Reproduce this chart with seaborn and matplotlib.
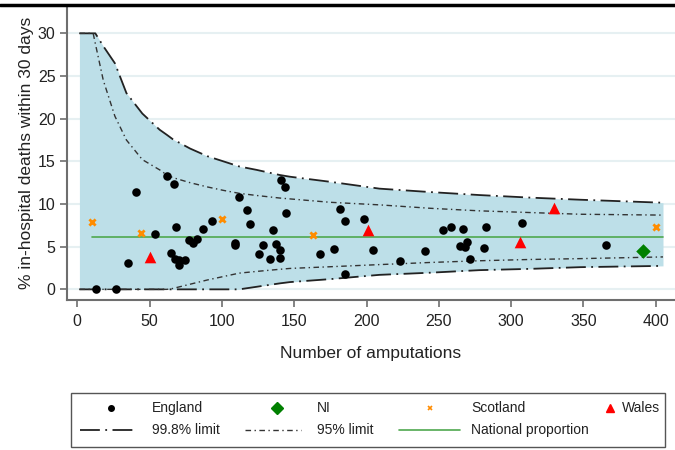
import numpy as np
import pandas as pd
import matplotlib
matplotlib.use("Agg")
import matplotlib.pyplot as plt
from matplotlib.lines import Line2D
from matplotlib.patches import Rectangle
import seaborn as sns

# ── Data ─────────────────────────────────────────────────────────────────────
england_n = [12.9, 26.6, 35.3, 40.4, 53.5, 62.2, 66.7, 68.3, 64.6, 67.6,
             70.3, 74.5, 70.5, 77.5, 80.2, 82.6, 87.1, 93.4, 111.6, 109.3,
             109.3, 117.6, 119.4, 125.4, 128.2, 133.5, 135.6, 137.4, 140.4, 140.4,
             141.1, 143.4, 144.3, 167.6, 177.5, 181.7, 185.3, 185.3, 198.5, 204.3,
             223.2, 240.7, 252.7, 258.4, 266.5, 264.7, 268.1, 269.5, 271.6, 281.5,
             282.4, 307.5, 365.6]
england_pct = [0.0, 0.0, 3.1, 11.4, 6.5, 13.3, 12.4, 7.3, 4.3, 3.5,
               3.4, 3.4, 2.85, 5.8, 5.4, 5.9, 7.1, 8.0, 10.8, 5.4,
               5.2, 9.3, 7.6, 4.2, 5.2, 3.6, 7.0, 5.3, 4.6, 3.7,
               12.85, 12.0, 8.9, 4.1, 4.7, 9.4, 8.0, 1.8, 8.2, 4.6,
               3.3, 4.5, 7.0, 7.3, 7.1, 5.1, 5.0, 5.5, 3.5, 4.8,
               7.3, 7.8, 5.2]

ni_n = [391.3]
ni_pct = [4.5]

scotland_n = [10.4, 44.3, 100.3, 163.3, 400.4]
scotland_pct = [7.9, 6.6, 8.2, 6.4, 7.35]

wales_n = [50.3, 201.3, 306.2, 329.3]
wales_pct = [3.8, 7.0, 5.6, 9.5]

national_n = [10.4, 405]
national_pct = [6.1, 6.1]

limit_n = [1.5, 11, 12.5, 18, 26, 34, 45, 57, 62, 66,
           78, 90, 101, 112, 124, 140, 147, 175, 209, 244,
           278, 313, 348, 405]
upper_998 = [30, 30, 30, 28.5, 26.5, 23.0, 20.6, 18.7, 18.1, 17.6,
             16.5, 15.6, 15.0, 14.4, 14.0, 13.4, 13.2, 12.6, 11.8, 11.4,
             11.05, 10.75, 10.5, 10.15]
upper_95 = [30, 30, 28.8, 24.5, 20.3, 17.5, 15.2, 14.0, 13.4, 13.1,
            12.5, 12.0, 11.6, 11.25, 11.0, 10.7, 10.6, 10.2, 9.9, 9.5,
            9.2, 9.0, 8.8, 8.7]
lower_95 = [0, 0, 0, 0, 0, 0, 0, 0, 0, 0.1,
            0.6, 1.1, 1.5, 1.9, 2.1, 2.35, 2.45, 2.65, 2.9, 3.15,
            3.35, 3.5, 3.6, 3.8]
lower_998 = [0, 0, 0, 0, 0, 0, 0, 0, 0, 0,
             0, 0, 0, 0, 0.3, 0.7, 0.85, 1.2, 1.7, 1.95,
             2.25, 2.4, 2.6, 2.75]

# ── Styling ──────────────────────────────────────────────────────────────────
sns.set_style("white")
plt.rcParams["font.family"] = ["Liberation Sans", "DejaVu Sans"]

BAND = "#bddfe8"
GRID = "#e6f0f2"
AXIS = "#6e6e6e"
TXT = "#222222"
LS_998 = (0, (11, 3, 1, 3))
LS_95 = (0, (4, 2.5, 1, 2.5))
W, H = 675, 450

fig = plt.figure(figsize=(6.75, 4.5), dpi=100)
ax = fig.add_axes([0.0988, 0.3333, 0.9012, 0.6533])

# funnel band
ax.fill_between(limit_n, lower_998, upper_998, color=BAND, linewidth=0, zorder=1)

lims = pd.DataFrame({"n": limit_n, "u998": upper_998, "l998": lower_998,
                     "u95": upper_95, "l95": lower_95})
for col in ["u998", "l998"]:
    sns.lineplot(data=lims, x="n", y=col, ax=ax, color="#222222", linewidth=1.3,
                 linestyle=LS_998, estimator=None, sort=False, zorder=3)
for col in ["u95", "l95"]:
    sns.lineplot(data=lims, x="n", y=col, ax=ax, color="#333333", linewidth=1.0,
                 linestyle=LS_95, estimator=None, sort=False, zorder=3)

sns.lineplot(x=national_n, y=national_pct, ax=ax, color="#4fa84f", linewidth=1.2,
             estimator=None, zorder=3)

# hospitals
sns.scatterplot(x=england_n, y=england_pct, ax=ax, color="black", marker="o",
                s=38, linewidth=0, zorder=5)
sns.scatterplot(x=ni_n, y=ni_pct, ax=ax, color="#008000", marker="D",
                s=55, linewidth=0, zorder=5)
sns.scatterplot(x=scotland_n, y=scotland_pct, ax=ax, color="#ff8c00", marker="x",
                s=20, linewidth=2.0, zorder=5)
sns.scatterplot(x=wales_n, y=wales_pct, ax=ax, color="red", marker="^",
                s=70, linewidth=0, zorder=5)

# axes
ax.set_xlim(-7.3, 413.3)
ax.set_ylim(-1.25, 33.2)
ax.set_xticks(range(0, 401, 50))
ax.set_yticks(range(0, 31, 5))
ax.yaxis.grid(True, color=GRID, linewidth=1.5)
ax.set_axisbelow(True)
for side in ["top", "right"]:
    ax.spines[side].set_visible(False)
for side in ["left", "bottom"]:
    ax.spines[side].set_color(AXIS)
    ax.spines[side].set_linewidth(1.5)
ax.tick_params(axis="both", colors=AXIS, length=5, width=1.2, labelsize=11.5,
               labelcolor=TXT, direction="out", bottom=True, left=True)
ax.tick_params(axis="x", pad=5)
ax.tick_params(axis="y", pad=3)
ax.set_xlabel("Number of amputations", fontsize=12.5, color=TXT, labelpad=12)
ax.set_ylabel("% in-hospital deaths within 30 days", fontsize=12.5,
              color=TXT, labelpad=3)

# ── Legend, laid out like the original (row 1 markers, row 2 lines) ───────
def fx(px):
    return px / W


def fy(py):
    return 1 - py / H


fig.add_artist(Rectangle((fx(71), fy(447)), fx(665) - fx(71), fy(393) - fy(447),
                         transform=fig.transFigure, facecolor="white",
                         edgecolor="#555555", linewidth=1.0))

marker_keys = [
    ("England", 111, 152, dict(color="black", marker="o", markersize=4)),
    ("NI", 277, 317, dict(color="#008000", marker="D", markersize=6)),
    ("Scotland", 430, 471, dict(color="#ff8c00", marker="x", markersize=3.5,
                                markeredgewidth=1.2)),
    ("Wales", 610, 622, dict(color="red", marker="^", markersize=5.5)),
]
for label, mx, tx, kw in marker_keys:
    fig.add_artist(Line2D([fx(mx)], [fy(408)], transform=fig.transFigure,
                          linestyle="none", **kw))
    fig.text(fx(tx), fy(408), label, fontsize=10, color=TXT, va="center")

line_keys = [
    ("99.8% limit", 80, 133, 152, dict(color="#222222", linestyle=LS_998, linewidth=1.3)),
    ("95% limit", 245, 301, 317, dict(color="#333333", linestyle=LS_95, linewidth=1.0)),
    ("National proportion", 399, 460, 471, dict(color="#4fa84f", linewidth=1.2)),
]
for label, x0, x1, tx, kw in line_keys:
    fig.add_artist(Line2D([fx(x0), fx(x1)], [fy(430), fy(430)],
                          transform=fig.transFigure, **kw))
    fig.text(fx(tx), fy(430), label, fontsize=10, color=TXT, va="center")

# top border line of the original graph frame
fig.add_artist(Line2D([0, 1], [0.989, 0.989], transform=fig.transFigure,
                      color="black", linewidth=2.5))

fig.savefig("out.png", dpi=100)
